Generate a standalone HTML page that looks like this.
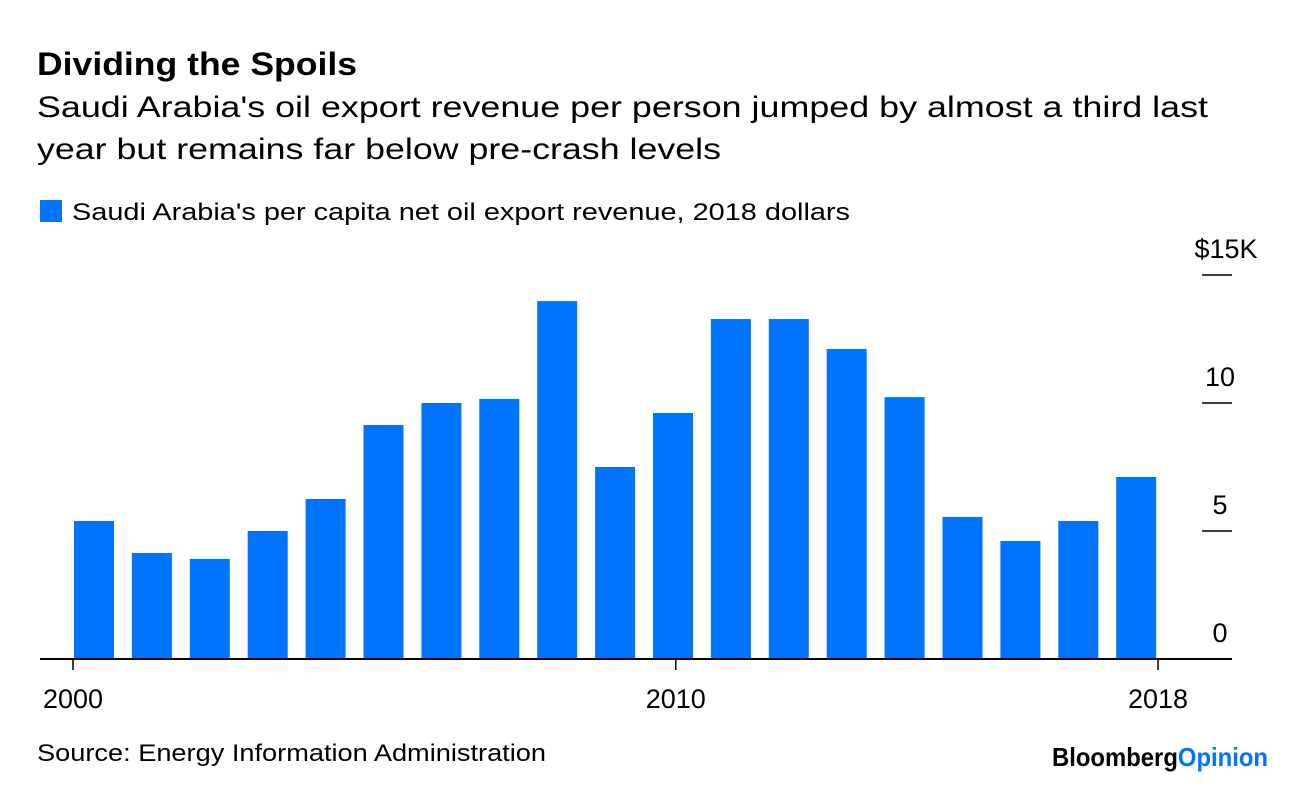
<!DOCTYPE html>
<html><head><meta charset="utf-8"><style>
body{margin:0;width:1296px;height:782px;background:#fff;font-family:"Liberation Sans",sans-serif;overflow:hidden}
</style></head><body>
<svg width="1296" height="782" xmlns="http://www.w3.org/2000/svg" style="font-family:'Liberation Sans',sans-serif">
<text x="37" y="75" font-size="32" font-weight="bold" fill="#000" textLength="320" lengthAdjust="spacingAndGlyphs">Dividing the Spoils</text>
<text x="37" y="117" font-size="30" fill="#000" textLength="1171" lengthAdjust="spacingAndGlyphs">Saudi Arabia's oil export revenue per person jumped by almost a third last</text>
<text x="37" y="159" font-size="30" fill="#000" textLength="684" lengthAdjust="spacingAndGlyphs">year but remains far below pre-crash levels</text>
<rect x="40" y="200" width="22" height="22" fill="#0073ff"/>
<text x="72" y="220" font-size="24" fill="#000" textLength="778" lengthAdjust="spacingAndGlyphs">Saudi Arabia's per capita net oil export revenue, 2018 dollars</text>
<g id="bars"></g>
<g id="yaxis"></g>
<g id="xaxis"></g>
<line x1="40" y1="659" x2="1232" y2="659" stroke="#000" stroke-width="2"/>
<text x="37" y="761" font-size="24" fill="#000" textLength="509" lengthAdjust="spacingAndGlyphs">Source: Energy Information Administration</text>
<text x="1052" y="766" font-size="26" font-weight="bold" textLength="216" lengthAdjust="spacingAndGlyphs"><tspan fill="#000">Bloomberg</tspan><tspan fill="#0073ff">Opinion</tspan></text>
</svg>
<script>
const years=[2000,2001,2002,2003,2004,2005,2006,2007,2008,2009,2010,2011,2012,2013,2014,2015,2016,2017,2018];
const values=[5.39,4.14,3.91,5.0,6.25,9.14,10.0,10.16,13.98,7.5,9.61,13.28,13.28,12.11,10.23,5.55,4.61,5.39,7.11];
const yTicks=[0,5,10,15];
const yTickLabels=["0","5","10","$15K"];
const xTicks=[2000,2010,2018];
const NS="http://www.w3.org/2000/svg";
const y=v=>659-v*25.6;
const barX=i=>74+i*57.9;
const xt=yr=>73+(yr-2000)*60.28;
const gb=document.getElementById('bars');
values.forEach((v,i)=>{
 const r=document.createElementNS(NS,'rect');
 r.setAttribute('x',barX(i));r.setAttribute('y',y(v));
 r.setAttribute('width',40);r.setAttribute('height',659-y(v));
 r.setAttribute('fill','#0073ff');
 
 
 gb.appendChild(r);
});
const gy=document.getElementById('yaxis');
yTicks.forEach((t,i)=>{
 if(t>0){const l=document.createElementNS(NS,'line');
 l.setAttribute('x1',1202);l.setAttribute('x2',1232);l.setAttribute('y1',y(t));l.setAttribute('y2',y(t));
 l.setAttribute('stroke','#000');l.setAttribute('stroke-width',1.5);
 
 
 gy.appendChild(l);}
 const tx=document.createElementNS(NS,'text');
 tx.setAttribute('x',t===15?1226:1220);tx.setAttribute('y',y(t)-17);tx.setAttribute('text-anchor','middle');
 tx.setAttribute('font-size',27);tx.textContent=yTickLabels[i];
 
 
 gy.appendChild(tx);
});
const gx=document.getElementById('xaxis');
xTicks.forEach(t=>{
 const l=document.createElementNS(NS,'line');
 l.setAttribute('x1',xt(t));l.setAttribute('x2',xt(t));l.setAttribute('y1',659);l.setAttribute('y2',670);
 l.setAttribute('stroke','#000');l.setAttribute('stroke-width',1.5);
 
 
 gx.appendChild(l);
 const tx=document.createElementNS(NS,'text');
 tx.setAttribute('x',xt(t));tx.setAttribute('y',708);tx.setAttribute('text-anchor','middle');
 tx.setAttribute('font-size',27);tx.textContent=t;
 
 
 gx.appendChild(tx);
});
</script>
</body></html>
